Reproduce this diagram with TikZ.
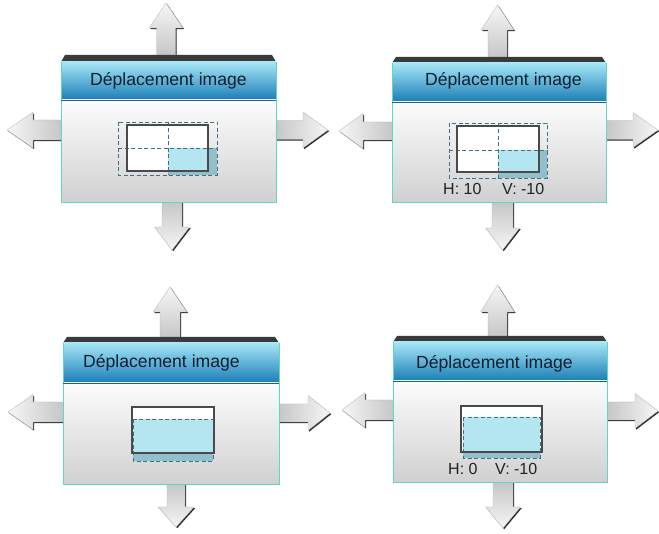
\documentclass[tikz,border=0pt]{standalone}
\usepackage{fontspec}
\setmainfont{Liberation Sans}
\definecolor{barcol}{HTML}{3A3A3A}
\definecolor{hdrtop}{HTML}{A6E6F6}
\definecolor{hdrmid}{HTML}{4DBCE2}
\definecolor{hdrbot}{HTML}{1A7DB6}
\definecolor{bodytop}{HTML}{FCFCFC}
\definecolor{bodybot}{HTML}{D0D0D0}
\definecolor{bodyedge}{HTML}{62D6C6}
\definecolor{arrlight}{HTML}{F6F6F6}
\definecolor{arrdark}{HTML}{C4C4C4}
\definecolor{arrshadow}{HTML}{2E2E2E}
\definecolor{arredge}{HTML}{B8B8B8}
\definecolor{cyanlight}{HTML}{B4E6F1}
\definecolor{cyandark}{HTML}{92BFCB}
\definecolor{dashcol}{HTML}{3E7088}
\definecolor{screencol}{HTML}{4A4A4A}
\definecolor{ttlcol}{HTML}{0E1E30}
\definecolor{lblcol}{HTML}{222222}
\tikzset{
  ttl/.style={text=ttlcol,font=\fontsize{17.6}{20}\selectfont,inner sep=0pt,anchor=base west},
  lbl/.style={text=lblcol,font=\fontsize{16}{19}\selectfont,inner sep=0pt,anchor=base west},
  dashln/.style={draw=dashcol,dashed,dash pattern=on 4pt off 2.5pt,line width=0.8pt},
  screen/.style={draw=screencol,line width=1.2pt},
  upshade/.style={top color=arrlight,bottom color=arrdark},
  downshade/.style={top color=arrdark,bottom color=arrlight},
  leftshade/.style={left color=arrlight,right color=arrdark},
  rightshade/.style={left color=arrdark,right color=arrlight}
}
% vertical arrow: #1 cx, #2 shaft half width, #3 y at panel, #4 y head base, #5 head half width, #6 y tip, #7 shade style
\newcommand\myArrV[7]{%
  \begin{scope}[xshift=1.2pt,yshift=-1.2pt]
  \fill[arrshadow] (#1-#2,#3) -- (#1-#2,#4) -- (#1-#5,#4) -- (#1,#6) -- (#1+#5,#4) -- (#1+#2,#4) -- (#1+#2,#3) -- cycle;
  \end{scope}
  \shade[#7,draw=arredge,line width=0.3pt] (#1-#2,#3) -- (#1-#2,#4) -- (#1-#5,#4) -- (#1,#6) -- (#1+#5,#4) -- (#1+#2,#4) -- (#1+#2,#3) -- cycle;
}
% horizontal arrow: #1 cy, #2 shaft half width, #3 x at panel, #4 x head base, #5 head half width, #6 x tip, #7 shade style
\newcommand\myArrH[7]{%
  \begin{scope}[xshift=1.2pt,yshift=-1.2pt]
  \fill[arrshadow] (#3,#1-#2) -- (#4,#1-#2) -- (#4,#1-#5) -- (#6,#1) -- (#4,#1+#5) -- (#4,#1+#2) -- (#3,#1+#2) -- cycle;
  \end{scope}
  \shade[#7,draw=arredge,line width=0.3pt] (#3,#1-#2) -- (#4,#1-#2) -- (#4,#1-#5) -- (#6,#1) -- (#4,#1+#5) -- (#4,#1+#2) -- (#3,#1+#2) -- cycle;
}
% panel: #1 x1, #2 x2, #3 y bar top, #4 y header top, #5 y header bottom, #6 y bottom
\newcommand\myPanel[6]{%
  \fill[barcol] (#1,#4) -- (#1+4,#3) -- (#2-4,#3) -- (#2,#4) -- cycle;
  \shade[top color=hdrtop,middle color=hdrmid,bottom color=hdrbot] (#1,#4) rectangle (#2,#5);
  \shade[top color=bodytop,bottom color=bodybot] (#1,#5) rectangle (#2,#6);
  \draw[bodyedge,line width=1pt] (#1,#4) -- (#1,#6) -- (#2,#6) -- (#2,#4);
  \draw[hdrbot!80!black,line width=0.8pt] (#1,#5) -- (#2,#5);
}
\begin{document}
\begin{tikzpicture}[x=1pt,y=-1pt]
\fill[white] (0,0) rectangle (659,534);
\useasboundingbox (0,0) rectangle (659,534);

% ---------- Panel 1 (top left)
\myArrV{166}{9.5}{58}{28}{17}{3}{upshade}
\myArrV{172}{10}{200}{227}{17.5}{250}{downshade}
\myArrH{130}{10}{64}{33}{18}{7}{leftshade}
\myArrH{130}{9.5}{273}{303}{18}{328}{rightshade}
\myPanel{61}{276}{55}{62}{100}{203}
\node[ttl] (t1) at (90,86) {Déplacement image};
\fill[white] (127,125) rectangle (208,171);
\fill[cyandark] (168,148) rectangle (217,175);
\fill[cyanlight] (168,148) rectangle (208,171);
\draw[dashln] (118,122) rectangle (217,175);
\draw[dashln] (168,122) -- (168,175);
\draw[dashln] (118,148) -- (217,148);
\draw[screen] (127,125) rectangle (208,171);

% ---------- Panel 2 (top right)
\myArrV{497.5}{9.5}{60}{30}{16.5}{5}{upshade}
\myArrV{502.5}{10.5}{200}{228}{17}{250}{downshade}
\myArrH{131}{9}{395}{363}{17.5}{339}{leftshade}
\myArrH{130}{9.5}{603}{633}{17.5}{658}{rightshade}
\myPanel{392}{606}{57}{63}{102}{203}
\node[ttl] (t2) at (425,86) {Déplacement image};
\fill[white] (457,126) rectangle (539,172);
\fill[cyandark] (498,150) rectangle (547,178);
\fill[cyanlight] (498,150) rectangle (539,172);
\draw[dashln] (449,123) rectangle (547,178);
\draw[dashln] (498,123) -- (498,178);
\draw[dashln] (449,150) -- (547,150);
\draw[screen] (457,126) rectangle (539,172);
\node[lbl] (h2) at (443,195) {H: 10};
\node[lbl] (v2) at (502,195) {V: -10};

% ---------- Panel 3 (bottom left)
\myArrV{170}{10}{340}{312}{17}{287}{upshade}
\myArrV{176}{9}{482}{507}{18}{527}{downshade}
\myArrH{412}{10}{66}{33}{17.5}{8}{leftshade}
\myArrH{413}{9}{276}{308}{17.5}{330}{rightshade}
\myPanel{63}{279}{337}{343}{383}{485}
\node[ttl] (t3) at (83,368) {Déplacement image};
\fill[white] (132,407) rectangle (214,453);
\fill[cyandark] (133,419) rectangle (213,461);
\fill[cyanlight] (133,419) rectangle (213,453);
\draw[dashln] (133,419) rectangle (213,461);
\draw[screen] (132,407) rectangle (214,453);

% ---------- Panel 4 (bottom right)
\myArrV{497.5}{9.5}{339}{312}{17}{285}{upshade}
\myArrV{503}{10}{480}{507}{17.5}{528}{downshade}
\myArrH{410}{10}{396}{365}{17.5}{342}{leftshade}
\myArrH{411}{9}{604}{635}{17.5}{658}{rightshade}
\myPanel{393}{607}{336}{342}{381}{483}
\node[ttl] (t4) at (416,369) {Déplacement image};
\fill[white] (461,406) rectangle (542,452);
\fill[cyandark] (463,417) rectangle (540,458);
\fill[cyanlight] (463,417) rectangle (540,452);
\draw[dashln] (463,417) rectangle (540,458);
\draw[screen] (461,406) rectangle (542,452);
\node[lbl] (h4) at (448,475) {H: 0};
\node[lbl] (v4) at (495,475) {V: -10};
\end{tikzpicture}
\end{document}
